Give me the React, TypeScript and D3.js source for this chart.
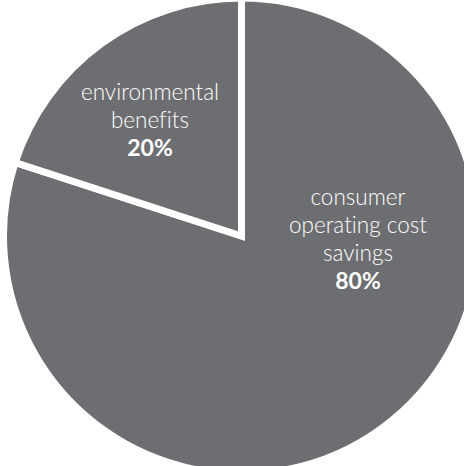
import React from "react";
import * as d3 from "d3";

const categories = ["consumer operating cost savings", "environmental benefits"];
const values = [80, 20];
const labelLines = [["consumer", "operating cost", "savings"], ["environmental", "benefits"]];
const percentLabels = ["80%", "20%"];

const W = 464;
const H = 466;
const CX = 241.5;
const CY = 236;
const R = 238;
const FILL = "#6d6e71";
// label block first-baseline offsets relative to pie centre (layout)
const labelOffsets = [
  { dx: 116.5, dy: -31 },
  { dx: -91.5, dy: -136 },
];
const LINE = 28;

export default function App() {
  const pie = d3
    .pie<number>()
    .sort(null)
    .startAngle(0)
    .endAngle(2 * Math.PI)(values);
  const arc = d3.arc<d3.PieArcDatum<number>>().innerRadius(0).outerRadius(R);

  return (
    <svg
      width={W}
      height={H}
      style={{ position: "absolute", left: 0, top: 0, display: "block", fontVariantLigatures: "none" }}
    >
      <rect width={W} height={H} fill="#ffffff" />
      <g transform={`translate(${CX},${CY})`}>
        {pie.map((p, i) => (
          <path
            key={categories[i]}
            d={arc(p) || ""}
            fill={FILL}
            stroke="#ffffff"
            strokeWidth={7}
            strokeLinejoin="miter"
          />
        ))}
        {pie.map((p, i) => {
          const off = labelOffsets[i];
          const lines = labelLines[i];
          return (
            <g key={"l" + i} transform={`translate(${off.dx},${off.dy})`}>
              {lines.map((t, j) => (
                <text
                  key={j}
                  x={0}
                  y={j * LINE}
                  textAnchor="middle"
                  fill="#ffffff"
                  fontFamily="Lato"
                  fontWeight={300}
                  fontSize={22.5}
                >
                  {t}
                </text>
              ))}
              <text
                x={0}
                y={lines.length * LINE - 0.5}
                textAnchor="middle"
                fill="#ffffff"
                fontFamily="Lato"
                fontWeight={700}
                fontSize={23}
              >
                {percentLabels[i]}
              </text>
            </g>
          );
        })}
      </g>
    </svg>
  );
}
